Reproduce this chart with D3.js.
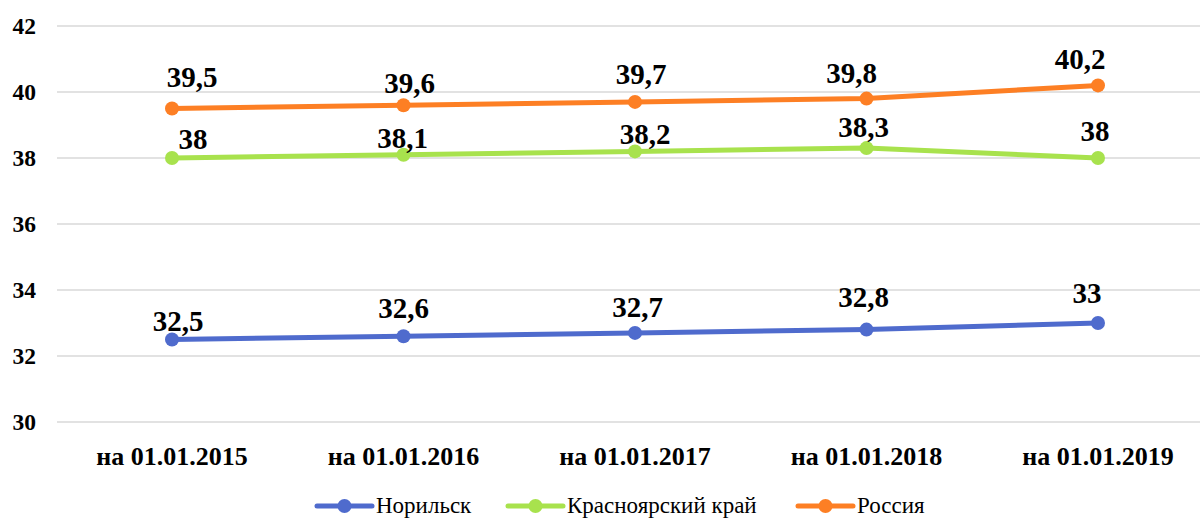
<!DOCTYPE html>
<html><head><meta charset="utf-8">
<script src="https://cdn.jsdelivr.net/npm/d3@7"></script>
<style>body{margin:0;background:#fff;} svg{display:block;} text{font-family:"Liberation Serif","Times New Roman",serif;}</style>
</head><body>
<svg id="chart" width="1200" height="519"></svg>
<script>
const categories = ["на 01.01.2015","на 01.01.2016","на 01.01.2017","на 01.01.2018","на 01.01.2019"];
const norilsk = [32.5, 32.6, 32.7, 32.8, 33];
const krasnoyarsk = [38, 38.1, 38.2, 38.3, 38];
const russia = [39.5, 39.6, 39.7, 39.8, 40.2];
const seriesNames = ["Норильск","Красноярский край","Россия"];
const yTicks = [30, 32, 34, 36, 38, 40, 42];

// layout only: manual data-label nudges [dx, dy] in px (as placed in the original)
const labelNudges = [
  [[6,-19],[0,-28.5],[2.5,-26],[-3,-33],[-11,-30]],
  [[21,-19.5],[-1,-16.5],[10,-18],[-3,-21.5],[-3,-27]],
  [[20,-31.5],[6,-22.5],[6,-28],[-15,-25.5],[-18,-27]]
];

const colors = ["#4f6bcd", "#a8e24d", "#fd7f24"];
const series = [
  {name: seriesNames[0], values: norilsk, color: colors[0], nudges: labelNudges[0]},
  {name: seriesNames[1], values: krasnoyarsk, color: colors[1], nudges: labelNudges[1]},
  {name: seriesNames[2], values: russia, color: colors[2], nudges: labelNudges[2]}
];

const svg = d3.select("#chart");

const x = d3.scalePoint().domain(categories).range([172, 1098]);
const y = d3.scaleLinear().domain([30, 42]).range([422, 26]);

// gridlines
svg.append("g").selectAll("line").data(yTicks).join("line")
  .attr("x1", 57).attr("x2", 1200)
  .attr("y1", d => y(d)).attr("y2", d => y(d))
  .attr("stroke", "#d9d9d9").attr("stroke-width", 1.5);

// y tick labels
svg.append("g").selectAll("text").data(yTicks).join("text")
  .attr("x", 36).attr("y", d => y(d)).attr("dy", "0.35em")
  .attr("text-anchor", "end")
  .style("font-weight", "bold").style("font-size", "23.5px")
  .attr("fill", "#000").text(d => d);

// x labels
svg.append("g").selectAll("text").data(categories).join("text")
  .attr("x", d => x(d)).attr("y", 465)
  .attr("text-anchor", "middle")
  .style("font-weight", "bold").style("font-size", "26px")
  .attr("fill", "#000").text(d => d);

const line = d3.line().x((d, i) => x(categories[i])).y(d => y(d));
const fmt = v => String(v).replace(".", ",");

series.forEach(s => {
  const g = svg.append("g");
  g.append("path").datum(s.values).attr("d", line)
    .attr("fill", "none").attr("stroke", s.color).attr("stroke-width", 5)
    .attr("stroke-linejoin", "round").attr("stroke-linecap", "round");
  g.selectAll("circle").data(s.values).join("circle")
    .attr("cx", (d, i) => x(categories[i])).attr("cy", d => y(d)).attr("r", 7)
    .attr("fill", s.color);
});
series.forEach(s => {
  svg.append("g").selectAll("text").data(s.values).join("text")
    .attr("x", (d, i) => x(categories[i]) + s.nudges[i][0])
    .attr("y", (d, i) => y(d) + s.nudges[i][1]).attr("dy", "0.35em")
    .attr("text-anchor", "middle")
    .style("font-weight", "bold").style("font-size", "29px")
    .attr("fill", "#000").text(d => fmt(d));
});

// legend
const legend = svg.append("g");
const legendX = [317, 508, 798];
series.forEach((s, i) => {
  const g = legend.append("g").attr("transform", `translate(${legendX[i]},506)`);
  g.append("line").attr("x1", 0).attr("x2", 55).attr("y1", 0).attr("y2", 0)
    .attr("stroke", s.color).attr("stroke-width", 5).attr("stroke-linecap", "round");
  g.append("circle").attr("cx", 27.5).attr("cy", 0).attr("r", 7).attr("fill", s.color);
  g.append("text").attr("x", 59).attr("y", 0).attr("dy", "0.3em")
    .style("font-size", "23px").attr("fill", "#000").text(s.name);
});
</script>
</body></html>
